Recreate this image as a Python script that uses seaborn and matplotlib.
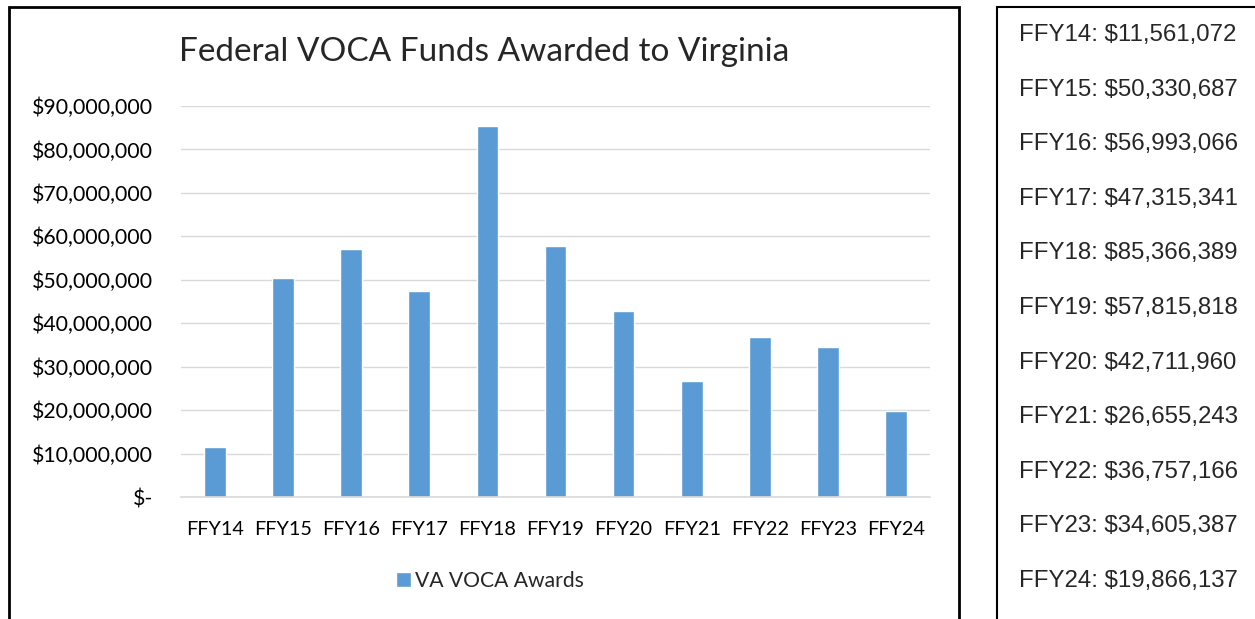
import matplotlib
matplotlib.use("Agg")
import matplotlib.pyplot as plt
import matplotlib.ticker as mticker
from matplotlib.patches import Rectangle
import pandas as pd
import seaborn as sns

# Data
years = ["FFY14", "FFY15", "FFY16", "FFY17", "FFY18", "FFY19",
         "FFY20", "FFY21", "FFY22", "FFY23", "FFY24"]
awards = [11561072, 50330687, 56993066, 47315341, 85366389, 57815818,
          42711960, 26655243, 36757166, 34605387, 19866137]
series_name = "VA VOCA Awards"
title = "Federal VOCA Funds Awarded to Virginia"

df = pd.DataFrame({"Year": years, "Award": awards})

sns.set_theme(style="white")
plt.rcParams["font.family"] = ["Lato", "DejaVu Sans"]

W, H = 1255, 619
fig = plt.figure(figsize=(W / 100, H / 100), dpi=100)

# axes placement in pixels
x0, x1, y_top, y_bot = 181, 930, 106, 497
ax = fig.add_axes([x0 / W, 1 - y_bot / H, (x1 - x0) / W, (y_bot - y_top) / H])

sns.barplot(data=df, x="Year", y="Award", color="#5B9BD5", width=0.32,
            saturation=1, label=series_name, ax=ax)

ax.set_ylim(0, 90e6)
ax.set_xlim(-0.5, len(years) - 0.5)
ax.yaxis.set_major_locator(mticker.MultipleLocator(10e6))
ax.yaxis.set_major_formatter(mticker.FuncFormatter(
    lambda v, p: "$-" if v == 0 else f"${v:,.0f}"))
ax.grid(axis="y", color="#D9D9D9", linewidth=1)
ax.set_axisbelow(True)
for s in ["top", "right", "left"]:
    ax.spines[s].set_visible(False)
ax.spines["bottom"].set_color("#D9D9D9")
ax.spines["bottom"].set_linewidth(1.2)

ax.set_xlabel("")
ax.set_ylabel("")
ax.tick_params(axis="y", length=0, labelsize=15.3, pad=20, colors="black")
ax.tick_params(axis="x", which="major", length=0, labelsize=14.3, pad=17, colors="black")
ax.set_xticks([i - 0.5 for i in range(len(years) + 1)], minor=True)
ax.tick_params(axis="x", which="minor", length=7, width=1.2, color="#D9D9D9", direction="out")

fig.text(484 / W, 1 - 52 / H, title, fontsize=24, ha="center", va="center")

leg = ax.legend(loc="center", bbox_to_anchor=(490 / W, 1 - 581 / H),
                bbox_transform=fig.transFigure, frameon=False, fontsize=15.2,
                handlelength=0.7, handleheight=0.7, handletextpad=0.2)

# chart border and side box
fig.patches.append(Rectangle((9 / W, -0.05), (959 - 9) / W, 1.05 - 7 / H,
                             transform=fig.transFigure, fill=False,
                             edgecolor="black", linewidth=2))
fig.patches.append(Rectangle((997 / W, -0.05), 0.3, 1.05 - 7 / H,
                             transform=fig.transFigure, fill=False,
                             edgecolor="black", linewidth=1.5))

for i, (yr, val) in enumerate(zip(years, awards)):
    fig.text(1019 / W, 1 - (35 + i * 54.6) / H, f"{yr}: ${val:,}",
             family="Liberation Sans", fontsize=17.3, va="center", ha="left")

fig.savefig("out.png", dpi=100)
